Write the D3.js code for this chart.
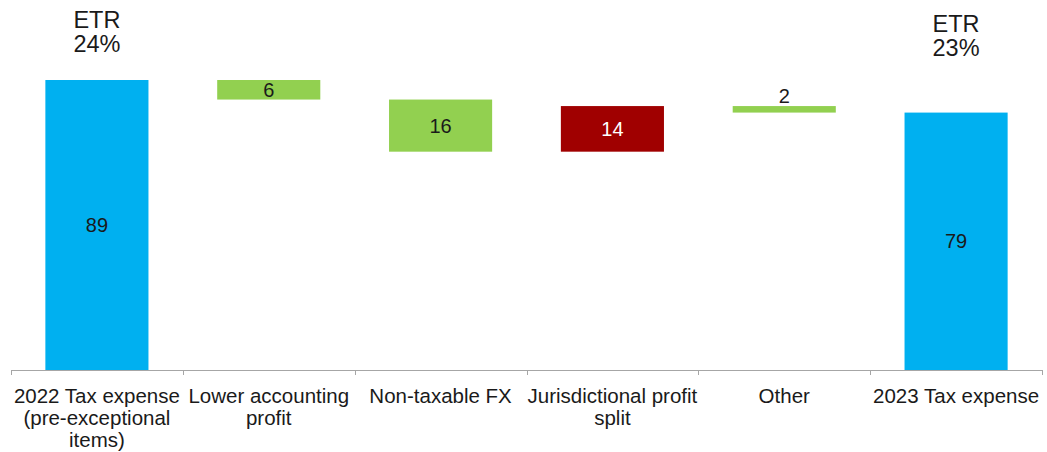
<!DOCTYPE html>
<html>
<head>
<meta charset="utf-8">
<script src="https://cdn.jsdelivr.net/npm/d3@7"></script>
<style>
  body { margin: 0; background: #fff; }
  text { font-family: "Liberation Sans", Arial, sans-serif; fill: #1a1a1a; }
</style>
</head>
<body>
<div class="chart"></div>
<script>
var W = 1047, H = 452;

// data
var categories = ['2022 Tax expense\n(pre-exceptional\nitems)', 'Lower accounting\nprofit', 'Non-taxable FX', 'Jurisdictional profit\nsplit', 'Other', '2023 Tax expense'];
var values = [89, -6, -16, 14, -2, 79];
var kinds = ['total', 'down', 'down', 'up', 'down', 'total'];
var etrLabels = [['ETR', '24%'], null, null, null, null, ['ETR', '23%']];

var colors = { total: '#00b0f0', down: '#92d050', up: '#a00000' };

// build waterfall start/end
var running = 0;
var rows = categories.map(function(c, i) {
	var v = values[i], start, end;
	if (kinds[i] == 'total') { start = 0; end = v; running = v; }
	else { start = running; end = running + (kinds[i] == 'down' ? -Math.abs(v) : Math.abs(v)); running = end; }
	return { cat: c, value: Math.abs(v), kind: kinds[i], lo: Math.min(start, end), hi: Math.max(start, end), etr: etrLabels[i] };
});

var svg = d3.select('.chart')
	.append('svg')
		.attr('width', W)
		.attr('height', H);

var xScale = d3.scaleBand()
	.domain(categories)
	.range([11, 1042])
	.paddingInner(0.4)
	.paddingOuter(0.2);

var yScale = d3.scaleLinear()
	.domain([0, 89])
	.range([370, 80]);

var step = xScale.step();

// bars
svg.selectAll('rect.bar')
	.data(rows)
	.enter()
	.append('rect')
	.attr('class', 'bar')
	.attr('x', d => xScale(d.cat))
	.attr('y', d => yScale(d.hi))
	.attr('width', xScale.bandwidth())
	.attr('height', d => yScale(d.lo) - yScale(d.hi))
	.attr('fill', d => colors[d.kind]);

// value labels
svg.selectAll('text.val')
	.data(rows)
	.enter()
	.append('text')
	.attr('class', 'val')
	.attr('x', d => xScale(d.cat) + xScale.bandwidth() / 2)
	.attr('y', function(d) {
		var h = yScale(d.lo) - yScale(d.hi);
		if (h < 14) return yScale(d.hi) - 3;
		return (yScale(d.lo) + yScale(d.hi)) / 2 + 7;
	})
	.attr('text-anchor', 'middle')
	.style('font-size', '20px')
	.style('fill', d => d.kind == 'up' ? '#fff' : '#1a1a1a')
	.text(d => d.value);

// ETR labels above totals
rows.forEach(function(d, i) {
	if (!d.etr) return;
	var y0 = i == 0 ? 28 : 32;
	d.etr.forEach(function(line, j) {
		svg.append('text')
			.attr('x', xScale(d.cat) + xScale.bandwidth() / 2)
			.attr('y', y0 + j * 24)
			.attr('text-anchor', 'middle')
			.style('font-size', '23.5px')
			.text(line);
	});
});

// x axis
var xAxis = d3.axisBottom(xScale).tickSize(0).tickPadding(0).tickFormat('');
var gx = svg.append('g')
	.attr('transform', 'translate(0, 370)')
	.call(xAxis);
gx.select('.domain').attr('stroke', '#a6a6a6').attr('d', 'M11,0.5H1042');

var bounds = categories.map(c => xScale(c) - step * 0.2).concat([xScale(categories[categories.length - 1]) + xScale.bandwidth() + step * 0.2]);
svg.selectAll('line.sep')
	.data(bounds)
	.enter()
	.append('line')
	.attr('class', 'sep')
	.attr('x1', d => Math.round(d) + 0.5)
	.attr('x2', d => Math.round(d) + 0.5)
	.attr('y1', 370)
	.attr('y2', 375)
	.attr('stroke', '#a6a6a6');

// tick labels
svg.selectAll('text.tick-lbl')
	.data(categories)
	.enter()
	.append('text')
	.attr('class', 'tick-lbl')
	.attr('text-anchor', 'middle')
	.style('font-size', '20.5px')
	.each(function(c) {
		var t = d3.select(this);
		var cx = xScale(c) + xScale.bandwidth() / 2;
		c.split('\n').forEach(function(line, j) {
			t.append('tspan')
				.attr('x', cx)
				.attr('y', 403 + j * 22)
				.text(line);
		});
	});
</script>
</body>
</html>
